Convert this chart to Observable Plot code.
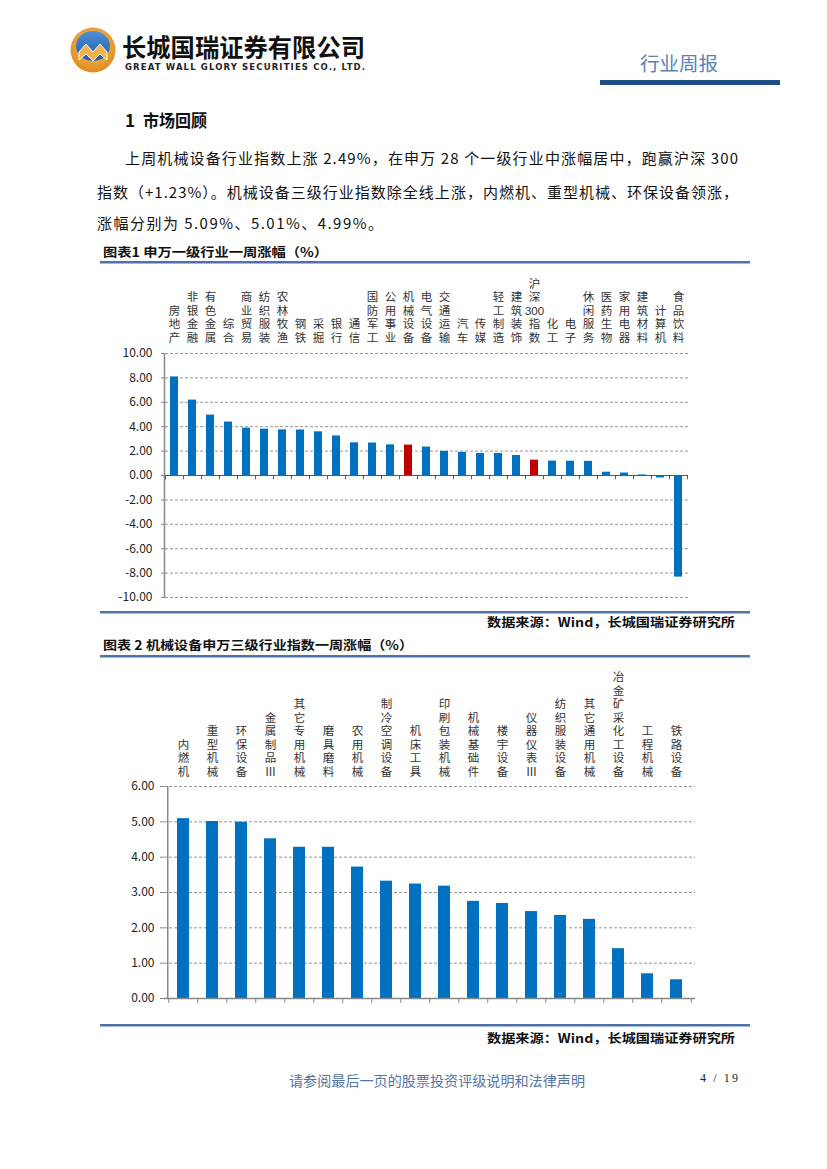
<!DOCTYPE html>
<html><head><meta charset="utf-8">
<script src="https://cdn.jsdelivr.net/npm/d3@7"></script>
<script src="https://cdn.jsdelivr.net/npm/@observablehq/plot@0.6"></script>
<style>
html,body{margin:0;padding:0;background:#fff;}
body{width:827px;height:1169px;position:relative;overflow:hidden;font-family:"Noto Sans CJK SC","Noto Sans",sans-serif;}
#bg{position:absolute;left:0;top:0;}
.chart{position:absolute;}
.chart svg{background:transparent !important;}
</style></head><body>
<svg id="bg" width="827" height="1169" xmlns="http://www.w3.org/2000/svg"></svg>
<div id="c1" class="chart" style="left:100px;top:262px;"></div>
<div id="c2" class="chart" style="left:100px;top:657px;"></div>
<script>
// ---------- data ----------
const cats1 = ["房地产","非银金融","有色金属","综合","商业贸易","纺织服装","农林牧渔","钢铁","采掘","银行","通信","国防军工","公用事业","机械设备","电气设备","交通运输","汽车","传媒","轻工制造","建筑装饰","沪深300指数","化工","电子","休闲服务","医药生物","家用电器","建筑材料","计算机","食品饮料"];
const vals1 = [8.08,6.18,4.95,4.38,3.88,3.80,3.74,3.73,3.58,3.24,2.68,2.66,2.51,2.49,2.33,1.98,1.89,1.80,1.80,1.64,1.26,1.18,1.17,1.16,0.27,0.20,0.05,-0.20,-8.33];
const highlight1 = ["机械设备","沪深300指数"];
const yTicks1 = [-10,-8,-6,-4,-2,0,2,4,6,8,10];

const cats2 = ["内燃机","重型机械","环保设备","金属制品Ⅲ","其它专用机械","磨具磨料","农用机械","制冷空调设备","机床工具","印刷包装机械","机械基础件","楼宇设备","仪器仪表Ⅲ","纺织服装设备","其它通用机械","冶金矿采化工设备","工程机械","铁路设备"];
const vals2 = [5.09,5.01,4.99,4.52,4.28,4.28,3.72,3.32,3.24,3.18,2.75,2.69,2.46,2.35,2.24,1.41,0.70,0.53];
const yTicks2 = [0,1,2,3,4,5,6];

// ---------- static page text ----------
const NS = "http://www.w3.org/2000/svg";
const bg = document.getElementById("bg");
function el(tag, attrs, text){
  const e = document.createElementNS(NS, tag);
  for (const k in attrs) e.setAttribute(k, attrs[k]);
  if (text != null) e.textContent = text;
  bg.appendChild(e); return e;
}
const CJK = '"Noto Sans CJK SC","Noto Sans",sans-serif';
const LBL = '"Liberation Sans","Noto Sans CJK SC",sans-serif';
// logo
const defs = el("defs",{});
defs.innerHTML = '<radialGradient id="og" cx="50%" cy="40%" r="60%"><stop offset="0" stop-color="#f9c66a"/><stop offset="1" stop-color="#e08a1e"/></radialGradient><linearGradient id="bl" x1="0" y1="0" x2="0" y2="1"><stop offset="0" stop-color="#4f8fd6"/><stop offset="1" stop-color="#1d5ea8"/></linearGradient>';
el("circle",{cx:93,cy:50,r:22.5,fill:"url(#og)"});
el("ellipse",{cx:93,cy:46,rx:17,ry:15,fill:"url(#bl)"});
el("path",{d:"M79 52 L86 44 L93 52 L100 44 L107 52 L107 60 L100 54 L93 61 L86 54 L79 60 Z",fill:"#f4b04a",stroke:"#fff","stroke-width":1});
el("text",{x:122,y:57,"font-family":CJK,"font-size":25,"font-weight":"bold",fill:"#111",textLength:243,lengthAdjust:"spacingAndGlyphs"},"长城国瑞证券有限公司");
el("text",{x:125,y:70,"font-family":'"DejaVu Sans",sans-serif',"font-size":8.5,"font-weight":"bold",fill:"#222",textLength:240,lengthAdjust:"spacing"},"GREAT WALL GLORY SECURITIES CO., LTD.");
el("text",{x:640,y:71,"font-family":CJK,"font-size":19,fill:"#5a80b8",textLength:78,lengthAdjust:"spacingAndGlyphs"},"行业周报");
el("rect",{x:600,y:80,width:180,height:5,fill:"#1f4e85"});
// section
el("text",{x:125,y:127,"font-family":CJK,"font-size":17,"font-weight":"bold",fill:"#111"},"1");
el("text",{x:143,y:127,"font-family":CJK,"font-size":17,"font-weight":"bold",fill:"#111",textLength:64,lengthAdjust:"spacingAndGlyphs"},"市场回顾");
el("text",{x:125,y:164,"font-family":CJK,"font-size":15,fill:"#111",textLength:613,lengthAdjust:"spacing"},"上周机械设备行业指数上涨 2.49%，在申万 28 个一级行业中涨幅居中，跑赢沪深 300");
el("text",{x:97,y:198,"font-family":CJK,"font-size":15,fill:"#111",textLength:641,lengthAdjust:"spacing"},"指数（+1.23%）。机械设备三级行业指数除全线上涨，内燃机、重型机械、环保设备领涨，");
el("text",{x:97,y:229,"font-family":CJK,"font-size":15,fill:"#111",textLength:286,lengthAdjust:"spacing"},"涨幅分别为 5.09%、5.01%、4.99%。");
// chart 1 frame
el("text",{x:103,y:257,"font-family":CJK,"font-size":12.5,"font-weight":"bold",fill:"#111",textLength:225,lengthAdjust:"spacingAndGlyphs"},"图表1 申万一级行业一周涨幅（%）");
el("rect",{x:100,y:261,width:650,height:2.5,fill:"#4f73a6"});
el("rect",{x:100,y:611,width:650,height:2.5,fill:"#4f73a6"});
el("text",{x:487,y:627,"font-family":CJK,"font-size":12.5,"font-weight":"bold",fill:"#111",textLength:248,lengthAdjust:"spacingAndGlyphs"},"数据来源：Wind，长城国瑞证券研究所");
// chart 2 frame
el("text",{x:103,y:650,"font-family":CJK,"font-size":12.5,"font-weight":"bold",fill:"#111",textLength:310,lengthAdjust:"spacingAndGlyphs"},"图表 2 机械设备申万三级行业指数一周涨幅（%）");
el("rect",{x:100,y:655,width:650,height:2.5,fill:"#4f73a6"});
el("rect",{x:100,y:1024,width:650,height:2.5,fill:"#4f73a6"});
el("text",{x:487,y:1043,"font-family":CJK,"font-size":12.5,"font-weight":"bold",fill:"#111",textLength:248,lengthAdjust:"spacingAndGlyphs"},"数据来源：Wind，长城国瑞证券研究所");
// footer
el("text",{x:437,y:1086,"text-anchor":"middle","font-family":CJK,"font-size":14,fill:"#5573a3",textLength:296,lengthAdjust:"spacingAndGlyphs"},"请参阅最后一页的股票投资评级说明和法律声明");
el("text",{x:700,y:1082,"font-family":'"Liberation Serif",serif',"font-size":12,fill:"#222",textLength:38,lengthAdjust:"spacing"},"4 / 19");

// ---------- charts ----------
const rows = s => s.match(/\d+|./gu);
const fontStyle = {fontFamily: CJK, fontSize: "12px", background: "transparent", overflow: "visible", color: "#222"};

// chart 1
const data1 = cats1.map((c, i) => ({cat: c, val: vals1[i]}));
const W1 = 650, ML1 = 65, MR1 = 62;
const step1 = (W1 - ML1 - MR1) / cats1.length;
const chart1 = Plot.plot({
  width: W1, height: 350, marginLeft: ML1, marginRight: MR1, marginTop: 91, marginBottom: 15,
  style: fontStyle,
  x: {domain: cats1, paddingInner: 0.55, paddingOuter: 0.275, axis: null},
  y: {domain: [-10, 10], axis: null},
  marks: [
    Plot.ruleY(yTicks1.filter(d => d !== 0), {stroke: "#8a8a8a", strokeWidth: 0.9, strokeDasharray: "3,2"}),
    Plot.barY(data1, {x: "cat", y: "val", fill: d => highlight1.includes(d.cat) ? "#C00000" : "#0070C0"}),
    Plot.ruleX([cats1[0]], {x: d => d, dx: -step1 / 2 - 1, y1: -10, y2: 10, stroke: "#868686", strokeWidth: 1.5}),
    Plot.ruleY([0], {stroke: "#0070C0", strokeWidth: 1.2}),
    Plot.ruleX(cats1, {x: d => d, dx: -step1 / 2, y1: 0, y2: -0.35, stroke: "#0070C0", strokeWidth: 1}),
    Plot.ruleX([cats1[cats1.length - 1]], {x: d => d, dx: step1 / 2, y1: 0, y2: -0.35, stroke: "#0070C0", strokeWidth: 1}),
    Plot.axisY({ticks: yTicks1, tickFormat: d => d.toFixed(2), tickSize: 4, tickPadding: 9, stroke: "#868686", fill: "#222", fontSize: 12, label: null}),
    Plot.text(cats1, {x: d => d, text: d => rows(d).join("\n"), frameAnchor: "top", lineAnchor: "bottom", dy: -12, lineHeight: 1.17, fontSize: 11.5, fontFamily: LBL, fill: "#333"})
  ]
});
document.getElementById("c1").appendChild(chart1);

// chart 2
const data2 = cats2.map((c, i) => ({cat: c, val: vals2[i]}));
const W2 = 650, ML2 = 64, MR2 = 55;
const step2 = (W2 - ML2 - MR2) / cats2.length;
const chart2 = Plot.plot({
  width: W2, height: 368, marginLeft: ML2, marginRight: MR2, marginTop: 129, marginBottom: 27,
  style: fontStyle,
  x: {domain: cats2, paddingInner: 0.59, paddingOuter: 0.295, axis: null},
  y: {domain: [0, 6], axis: null},
  marks: [
    Plot.ruleY(yTicks2.filter(d => d !== 0), {stroke: "#8a8a8a", strokeWidth: 0.9, strokeDasharray: "3,2"}),
    Plot.barY(data2, {x: "cat", y: "val", fill: "#0070C0"}),
    Plot.ruleX([cats2[0]], {x: d => d, dx: -step2 / 2 - 1, y1: 0, y2: 6, stroke: "#868686", strokeWidth: 1.5}),
    Plot.ruleY([0], {stroke: "#868686", strokeWidth: 1.5}),
    Plot.ruleX(cats2, {x: d => d, dx: -step2 / 2, y1: 0, y2: -0.14, stroke: "#868686", strokeWidth: 1}),
    Plot.ruleX([cats2[cats2.length - 1]], {x: d => d, dx: step2 / 2, y1: 0, y2: -0.14, stroke: "#868686", strokeWidth: 1}),
    Plot.axisY({ticks: yTicks2, tickFormat: d => d.toFixed(2), tickSize: 4, tickPadding: 6, stroke: "#868686", fill: "#222", fontSize: 12, label: null}),
    Plot.text(cats2, {x: d => d, text: d => rows(d).join("\n"), frameAnchor: "top", lineAnchor: "bottom", dy: -11, lineHeight: 1.17, fontSize: 11.5, fontFamily: LBL, fill: "#333"})
  ]
});
document.getElementById("c2").appendChild(chart2);
</script>
</body></html>
